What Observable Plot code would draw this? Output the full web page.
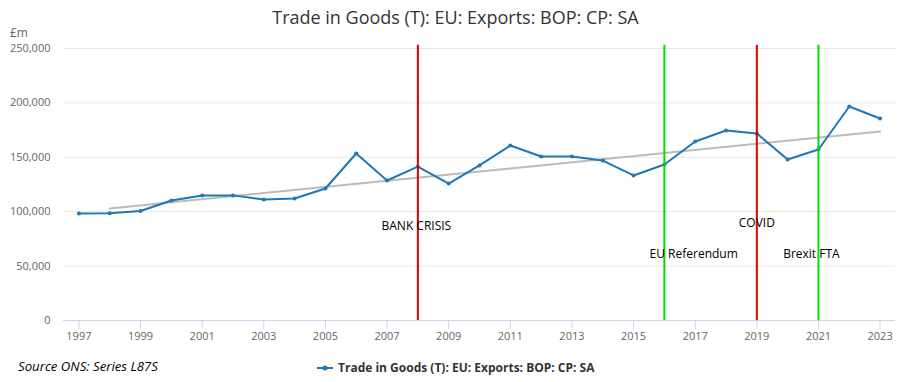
<!DOCTYPE html>
<html>
<head>
<meta charset="utf-8">
<script src="https://cdn.jsdelivr.net/npm/d3@7"></script>
<script src="https://cdn.jsdelivr.net/npm/@observablehq/plot@0.6"></script>
<style>
  body { margin: 0; background: #fff; font-family: "Open Sans", sans-serif; }
  #wrap { position: relative; width: 901px; height: 382px; overflow: hidden; }
  #wrap > svg { position: absolute; left: 0; top: 0; }
  .title { position: absolute; left: 5px; width: 901px; top: 5px; text-align: center; font-size: 18px; color: #333; line-height: 24px; }
  .unit { position: absolute; left: 10px; top: 27px; font-size: 12px; color: #666; line-height: 12px; height: 12px; }
  .source { position: absolute; left: 18px; top: 359px; font-size: 13.2px; font-style: italic; color: #000; line-height: 1.2; }
  .legend { position: absolute; left: 317px; top: 361px; font-size: 12px; font-weight: bold; color: #333; display: flex; align-items: center; line-height: 1.2; }
  .legend svg { margin-right: 5px; }
</style>
</head>
<body>
<div id="wrap"></div>
<script>
const seriesName = "Trade in Goods (T): EU: Exports: BOP: CP: SA";
const years = [1997,1998,1999,2000,2001,2002,2003,2004,2005,2006,2007,2008,2009,2010,2011,2012,2013,2014,2015,2016,2017,2018,2019,2020,2021,2022,2023];
const exportsValues = [98300,98500,100600,110300,114900,115000,111200,112100,121300,153500,128700,141500,125900,142500,160800,150700,150700,147000,133300,143400,164500,174600,171900,148000,157200,196700,185700];
const trendYears = [1998, 2023];
const trendValues = [103000, 173700];
const eventYears = [2008, 2016, 2019, 2021];
const eventColors = ["#dd0000", "#00dd00", "#dd0000", "#00dd00"];
const eventLabels = ["BANK CRISIS", "EU Referendum", "COVID", "Brexit FTA"];
const labelYears = [2007.95, 2016.95, 2019, 2020.77];
const labelValues = [86400, 60700, 89200, 60700];
const xTicks = [1997,1999,2001,2003,2005,2007,2009,2011,2013,2015,2017,2019,2021,2023];
const yTicks = [0,50000,100000,150000,200000,250000];

const data = years.map((y, i) => ({year: y, value: exportsValues[i]}));
const trend = trendYears.map((y, i) => ({year: y, value: trendValues[i]}));
const events = eventYears.map((y, i) => ({year: y, color: eventColors[i]}));
const labels = eventLabels.map((t, i) => ({text: t, year: labelYears[i], value: labelValues[i]}));

const chart = Plot.plot({
  width: 901,
  height: 382,
  marginLeft: 63,
  marginRight: 6,
  marginTop: 48,
  marginBottom: 62,
  style: {fontFamily: "Open Sans, sans-serif", fontSize: "11px", color: "#666", background: "transparent"},
  x: {domain: [1996.5, 2023.5], ticks: xTicks, tickFormat: d => String(d), label: null},
  y: {domain: [0, 250000], ticks: yTicks, label: null},
  marks: [
    Plot.gridY(yTicks, {stroke: "#e6e6e6", strokeOpacity: 1}),
    Plot.axisY({ticks: yTicks, tickSize: 0, tickPadding: 13, tickFormat: d3.format(","), fill: "#666", label: null}),
    Plot.axisX({ticks: xTicks, tickSize: 9, tickPadding: 3, stroke: "#ccd6eb", fill: "#666", tickFormat: d => String(d), label: null}),
    Plot.ruleY([0], {stroke: "#ccd6eb"}),
    Plot.line(trend, {x: "year", y: "value", stroke: "#bbbbbb", strokeWidth: 2}),
    Plot.line(data, {x: "year", y: "value", stroke: "#1f77b4", strokeWidth: 2}),
    Plot.dot(data, {x: "year", y: "value", r: 2, fill: "#1f77b4", stroke: null}),
    Plot.ruleX(events, {x: "year", y1: 0, y2: 253000, stroke: "color", strokeWidth: 2}),
    Plot.text(labels, {x: "year", y: "value", text: "text", fill: "#000", fontSize: 12, textAnchor: "middle"})
  ]
});
const wrap = document.getElementById("wrap");
wrap.appendChild(chart);

function addDiv(cls, text) {
  const d = document.createElement("div");
  d.className = cls;
  d.textContent = text;
  wrap.appendChild(d);
  return d;
}
addDiv("title", seriesName);
addDiv("unit", "£m");
addDiv("source", "Source ONS: Series L87S");
const leg = document.createElement("div");
leg.className = "legend";
leg.innerHTML = '<svg width="16" height="10"><line x1="0" y1="5" x2="16" y2="5" stroke="#1f77b4" stroke-width="2"/><circle cx="8" cy="5" r="2.5" fill="#1f77b4"/></svg>';
const span = document.createElement("span");
span.textContent = seriesName;
leg.appendChild(span);
wrap.appendChild(leg);
</script>
</body>
</html>
